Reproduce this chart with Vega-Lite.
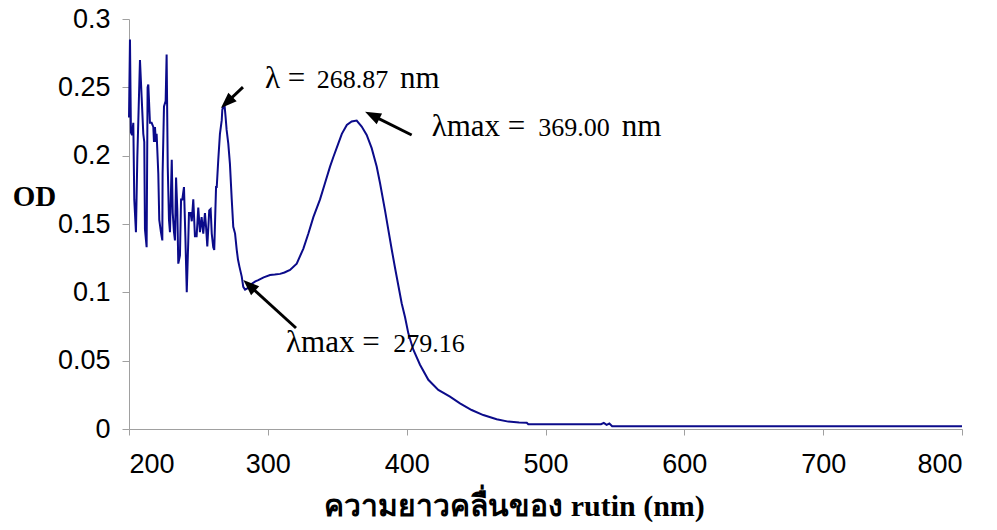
{
  "$schema": "https://vega.github.io/schema/vega-lite/v6.json",
  "width": 833,
  "height": 410,
  "autosize": {"type": "none"},
  "padding": {"left": 129, "top": 19, "right": 35, "bottom": 101},
  "background": "white",
  "config": {
    "view": {"stroke": null},
    "axis": {
      "grid": false,
      "domainColor": "#a0a0a0",
      "tickColor": "#a0a0a0",
      "labelFont": "Liberation Sans",
      "labelFontSize": 27,
      "labelColor": "#000000",
      "titleColor": "#000000"
    }
  },
  "datasets": {
    "spectrum": [
      {"wl": 200.0, "od": 0.228}, {"wl": 200.7, "od": 0.285}, {"wl": 201.4, "od": 0.217}, {"wl": 202.2, "od": 0.215},
      {"wl": 203.1, "od": 0.224}, {"wl": 203.8, "od": 0.168}, {"wl": 205.0, "od": 0.144}, {"wl": 206.0, "od": 0.199},
      {"wl": 207.9, "od": 0.270}, {"wl": 209.1, "od": 0.243}, {"wl": 210.3, "od": 0.216}, {"wl": 211.0, "od": 0.210},
      {"wl": 211.5, "od": 0.146}, {"wl": 212.7, "od": 0.133}, {"wl": 213.4, "od": 0.250}, {"wl": 213.9, "od": 0.252},
      {"wl": 215.1, "od": 0.224}, {"wl": 216.3, "od": 0.224}, {"wl": 217.5, "od": 0.221}, {"wl": 218.0, "od": 0.210},
      {"wl": 218.7, "od": 0.221}, {"wl": 219.4, "od": 0.210}, {"wl": 219.9, "od": 0.216}, {"wl": 221.1, "od": 0.187},
      {"wl": 221.8, "od": 0.153}, {"wl": 223.0, "od": 0.144}, {"wl": 224.0, "od": 0.138}, {"wl": 224.2, "od": 0.187},
      {"wl": 225.2, "od": 0.236}, {"wl": 226.4, "od": 0.240}, {"wl": 227.1, "od": 0.274}, {"wl": 227.9, "od": 0.192},
      {"wl": 228.8, "od": 0.153}, {"wl": 229.5, "od": 0.144}, {"wl": 230.8, "od": 0.197}, {"wl": 231.5, "od": 0.158},
      {"wl": 232.4, "od": 0.144}, {"wl": 233.1, "od": 0.138}, {"wl": 233.9, "od": 0.184}, {"wl": 234.8, "od": 0.160},
      {"wl": 235.5, "od": 0.121}, {"wl": 236.7, "od": 0.127}, {"wl": 237.5, "od": 0.168}, {"wl": 238.4, "od": 0.168},
      {"wl": 239.6, "od": 0.177}, {"wl": 240.6, "od": 0.141}, {"wl": 241.6, "od": 0.100}, {"wl": 242.7, "od": 0.138},
      {"wl": 243.2, "od": 0.158}, {"wl": 244.4, "od": 0.158}, {"wl": 245.2, "od": 0.152}, {"wl": 246.3, "od": 0.168},
      {"wl": 247.5, "od": 0.141}, {"wl": 248.7, "od": 0.141}, {"wl": 249.9, "od": 0.162}, {"wl": 251.1, "od": 0.144},
      {"wl": 252.3, "od": 0.155}, {"wl": 253.5, "od": 0.143}, {"wl": 254.7, "od": 0.158}, {"wl": 255.5, "od": 0.148},
      {"wl": 256.4, "od": 0.1335}, {"wl": 257.8, "od": 0.160}, {"wl": 258.8, "od": 0.161}, {"wl": 259.6, "od": 0.143},
      {"wl": 260.7, "od": 0.133}, {"wl": 261.4, "od": 0.131}, {"wl": 262.7, "od": 0.177}, {"wl": 263.2, "od": 0.177},
      {"wl": 264.3, "od": 0.197}, {"wl": 265.5, "od": 0.216}, {"wl": 266.8, "od": 0.226}, {"wl": 267.2, "od": 0.2335},
      {"wl": 267.9, "od": 0.236}, {"wl": 268.9, "od": 0.236}, {"wl": 269.6, "od": 0.228}, {"wl": 270.3, "od": 0.219},
      {"wl": 271.5, "od": 0.209}, {"wl": 272.7, "od": 0.194}, {"wl": 274.0, "od": 0.168}, {"wl": 275.1, "od": 0.148},
      {"wl": 276.4, "od": 0.143}, {"wl": 277.6, "od": 0.131}, {"wl": 278.5, "od": 0.124}, {"wl": 279.5, "od": 0.119},
      {"wl": 281.2, "od": 0.1115}, {"wl": 282.3, "od": 0.104}, {"wl": 283.6, "od": 0.102}, {"wl": 285.5, "od": 0.103},
      {"wl": 288.0, "od": 0.106}, {"wl": 291.0, "od": 0.108}, {"wl": 293.1, "od": 0.109}, {"wl": 297.0, "od": 0.111},
      {"wl": 301.6, "od": 0.1127}, {"wl": 305.0, "od": 0.113}, {"wl": 308.8, "od": 0.1135}, {"wl": 312.0, "od": 0.1145},
      {"wl": 316.0, "od": 0.1164}, {"wl": 320.8, "od": 0.121}, {"wl": 325.6, "od": 0.132}, {"wl": 329.2, "od": 0.143},
      {"wl": 332.8, "od": 0.155}, {"wl": 337.6, "od": 0.168}, {"wl": 341.2, "od": 0.180}, {"wl": 344.8, "od": 0.192},
      {"wl": 347.2, "od": 0.199}, {"wl": 350.8, "od": 0.209}, {"wl": 353.3, "od": 0.216}, {"wl": 356.9, "od": 0.2225},
      {"wl": 360.4, "od": 0.225}, {"wl": 364.0, "od": 0.2257}, {"wl": 367.6, "od": 0.2213}, {"wl": 371.2, "od": 0.2152},
      {"wl": 374.8, "od": 0.2055}, {"wl": 378.4, "od": 0.192}, {"wl": 380.8, "od": 0.180}, {"wl": 384.4, "od": 0.160},
      {"wl": 386.8, "od": 0.1457}, {"wl": 389.3, "od": 0.131}, {"wl": 391.6, "od": 0.118}, {"wl": 394.0, "od": 0.105},
      {"wl": 396.4, "od": 0.092}, {"wl": 398.8, "od": 0.082}, {"wl": 401.2, "od": 0.070}, {"wl": 404.8, "od": 0.058},
      {"wl": 409.6, "od": 0.047}, {"wl": 415.6, "od": 0.036}, {"wl": 422.8, "od": 0.0286}, {"wl": 431.2, "od": 0.0237},
      {"wl": 438.4, "od": 0.0188}, {"wl": 446.8, "od": 0.0139}, {"wl": 455.2, "od": 0.0102}, {"wl": 464.8, "od": 0.0071},
      {"wl": 473.2, "od": 0.0054}, {"wl": 481.0, "od": 0.0048}, {"wl": 486.5, "od": 0.0046}, {"wl": 487.6, "od": 0.0035},
      {"wl": 540.0, "od": 0.0035}, {"wl": 542.0, "od": 0.0045}, {"wl": 544.0, "od": 0.0030}, {"wl": 546.0, "od": 0.0040},
      {"wl": 548.0, "od": 0.0020}, {"wl": 800.0, "od": 0.0020}
    ]
  },
  "layer": [
    {
      "data": {"name": "spectrum"},
      "mark": {"type": "line", "color": "#0b0b8a", "strokeWidth": 2},
      "encoding": {
        "x": {
          "field": "wl", "type": "quantitative",
          "scale": {"domain": [200, 800], "nice": false, "zero": false},
          "axis": {
            "values": [200, 300, 400, 500, 600, 700, 800],
            "format": "d",
            "tickSize": 6,
            "labelPadding": 16,
            "title": "ความยาวคลื่นของ rutin (nm)",
            "titleFont": "Liberation Serif",
            "titleFontWeight": "bold",
            "titleFontSize": 30,
            "titleAlign": "center",
            "titleBaseline": "alphabetic",
            "titleX": 385,
            "titleY": 86
          }
        },
        "y": {
          "field": "od", "type": "quantitative",
          "scale": {"domain": [0, 0.3], "nice": false},
          "axis": {
            "values": [0, 0.05, 0.1, 0.15, 0.2, 0.25, 0.3],
            "format": "~g",
            "tickSize": 7,
            "labelPadding": 12,
            "title": "OD",
            "titleAngle": 0,
            "titleFont": "Liberation Serif",
            "titleFontWeight": "bold",
            "titleFontSize": 29,
            "titleAlign": "center",
            "titleBaseline": "alphabetic",
            "titleX": -95,
            "titleY": 186
          }
        }
      }
    },
    {
      "data": {"values": [
        {"x": 282.1, "y": 0.2502, "x2": 270.4, "y2": 0.2389},
        {"x": 403.6, "y": 0.2151, "x2": 375.2, "y2": 0.2295},
        {"x": 320.3, "y": 0.0739, "x2": 286.6, "y2": 0.1051}
      ]},
      "mark": {"type": "rule", "color": "#000000", "strokeWidth": 3},
      "encoding": {
        "x": {"field": "x", "type": "quantitative"},
        "y": {"field": "y", "type": "quantitative"},
        "x2": {"field": "x2"},
        "y2": {"field": "y2"}
      }
    },
    {
      "data": {"values": [
        {"x": 270.4, "y": 0.2389, "a": 226.3},
        {"x": 375.2, "y": 0.2295, "a": 296.6},
        {"x": 286.6, "y": 0.1051, "a": 312.3}
      ]},
      "mark": {"type": "point", "shape": "M0,-1L-0.75,1L0.75,1Z", "size": 256, "filled": true, "color": "#000000", "opacity": 1},
      "encoding": {
        "x": {"field": "x", "type": "quantitative"},
        "y": {"field": "y", "type": "quantitative"},
        "angle": {"field": "a", "type": "quantitative", "scale": null}
      }
    },
    {
      "data": {"values": [
        {"x": 298.0, "y": 0.2493, "t": "λ ="},
        {"x": 395.2, "y": 0.2493, "t": "nm"},
        {"x": 418.0, "y": 0.2144, "t": "λmax ="},
        {"x": 554.9, "y": 0.2144, "t": "nm"},
        {"x": 313.1, "y": 0.0566, "t": "λmax ="}
      ]},
      "mark": {"type": "text", "font": "Liberation Serif", "fontSize": 31, "align": "left", "baseline": "alphabetic", "color": "#000000"},
      "encoding": {
        "x": {"field": "x", "type": "quantitative"},
        "y": {"field": "y", "type": "quantitative"},
        "text": {"field": "t"}
      }
    },
    {
      "data": {"values": [
        {"x": 335.2, "y": 0.2493, "t": "268.87"},
        {"x": 494.8, "y": 0.2144, "t": "369.00"},
        {"x": 390.4, "y": 0.0566, "t": "279.16"}
      ]},
      "mark": {"type": "text", "font": "Liberation Serif", "fontSize": 26, "align": "left", "baseline": "alphabetic", "color": "#000000"},
      "encoding": {
        "x": {"field": "x", "type": "quantitative"},
        "y": {"field": "y", "type": "quantitative"},
        "text": {"field": "t"}
      }
    }
  ]
}
